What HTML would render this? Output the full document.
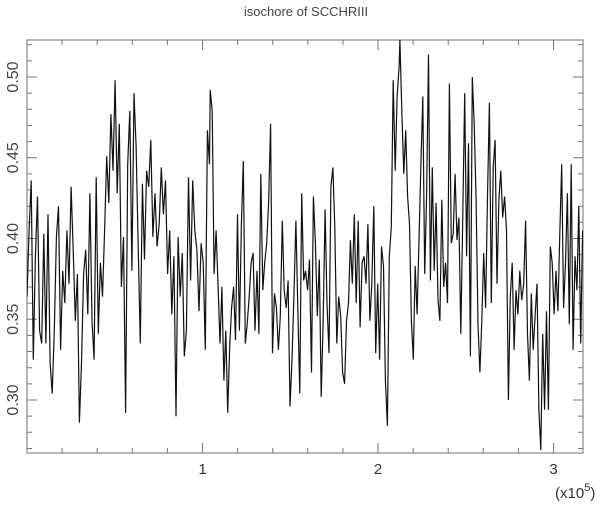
<!DOCTYPE html>
<html><head><meta charset="utf-8"><style>
html,body{margin:0;padding:0;background:#fff;}
svg{display:block;font-family:"Liberation Sans",sans-serif;}
</style></head><body>
<svg id="chart" width="612" height="505" viewBox="0 0 612 505" xmlns="http://www.w3.org/2000/svg">
<text x="306" y="16" text-anchor="middle" font-size="13" fill="#444">isochore of SCCHRIII</text>
<g id="axes"></g>
<g id="series" clip-path="url(#clip)"></g>
<defs><clipPath id="clip"><rect x="27" y="40" width="556" height="413"/></clipPath></defs>
</svg>
<script>
const segAValues=[0.364,0.405,0.436,0.325,0.389,0.426,0.343,0.335,0.403,0.335,0.415,0.323,0.304,0.343,0.401,0.420,0.331,0.380,0.360,0.405,0.372,0.432,0.393,0.349,0.378,0.286,0.323,0.378,0.393,0.353,0.428,0.349,0.325,0.438,0.341,0.385,0.364,0.405,0.451,0.422,0.477,0.442,0.498,0.428,0.471,0.370,0.401,0.292,0.446,0.479,0.380,0.490,0.457,0.395,0.335,0.434,0.387,0.442,0.432,0.461,0.401,0.428,0.395,0.409,0.444,0.415,0.436,0.378,0.405,0.353,0.389,0.290,0.401,0.364,0.391,0.327,0.343,0.438,0.374,0.436,0.405,0.393,0.355,0.397,0.385,0.331,0.467,0.446];
const segBValues=[0.492,0.479,0.378,0.405,0.372,0.335,0.370,0.312,0.343,0.292,0.333,0.357,0.370,0.337,0.415,0.343,0.409,0.448,0.335,0.347,0.364,0.385,0.391,0.343,0.380,0.341,0.440,0.368,0.385,0.397,0.422,0.471,0.329,0.366,0.357,0.331,0.352,0.411,0.368,0.357,0.374,0.296,0.325,0.364,0.411,0.357,0.304,0.428,0.374,0.380,0.368,0.387,0.317,0.426,0.397,0.352,0.387,0.302,0.347,0.418,0.360,0.329,0.432,0.444,0.407,0.335,0.364,0.352,0.317,0.310,0.349,0.360,0.399,0.372,0.415,0.360,0.411,0.345,0.385,0.389,0.372,0.409,0.349,0.372,0.420,0.329,0.372,0.325,0.395,0.383,0.312,0.284,0.389,0.407,0.498,0.442,0.488,0.506];
const segCValues=[0.523,0.477,0.440,0.467,0.426,0.409,0.349,0.325,0.383,0.353,0.399,0.446,0.488,0.378,0.426,0.514,0.374,0.444,0.380,0.422,0.362,0.349,0.424,0.370,0.385,0.360,0.496,0.397,0.403,0.440,0.399,0.413,0.341,0.415,0.490,0.389,0.459,0.327,0.500,0.471,0.424,0.347,0.317,0.349,0.391,0.357,0.426,0.484,0.360,0.444,0.461,0.372,0.424,0.442,0.413,0.426,0.405,0.300,0.364,0.385,0.331,0.368,0.353,0.380,0.362,0.372,0.411,0.341,0.312,0.366,0.331,0.352,0.372,0.294,0.269,0.341,0.294,0.355,0.294,0.395,0.385,0.353,0.380,0.355,0.403,0.446,0.357,0.385,0.428,0.347,0.446,0.331,0.389,0.368,0.420,0.335,0.405];
const segStartBp=[0,104400,212500];
const segEndBp=[104000,212000,316600];
const chromLength=316800;
const xTickLabels=["1","2","3"];
const xTickValues=[1,2,3];
const yTickLabels=["0.30","0.35","0.40","0.45","0.50"];
const yTickValues=[0.30,0.35,0.40,0.45,0.50];

const NS="http://www.w3.org/2000/svg";
const L=27,R=583,T=40,B=453;
function xScale(bp){return L+bp/chromLength*(R-L);}
function yScale(v){return 400-(v-0.30)*1615;}
function mk(tag,attrs,parent){const e=document.createElementNS(NS,tag);for(const k in attrs)e.setAttribute(k,attrs[k]);parent.appendChild(e);return e;}
const axes=document.getElementById('axes');
const frame=mk('rect',{x:L,y:T,width:R-L,height:B-T,fill:'none',stroke:'#888','stroke-width':1.2},axes);


for(let t=0.2;t<=3.15;t+=0.2){
  const major=Math.abs(t-Math.round(t))<1e-6;
  const x=xScale(t*1e5),len=major?10:5;
  const tk=mk('path',{d:`M${x},${B}V${B-len}M${x},${T}V${T+len}`,stroke:'#777','stroke-width':1},axes);
  
  
}
xTickValues.forEach((v,i)=>{
  const t=mk('text',{x:xScale(v*1e5),y:474,'text-anchor':'middle','font-size':15,fill:'#333'},axes);
  t.textContent=xTickLabels[i];
  
  
});
const xm=mk('text',{x:555,y:498,'font-size':15,fill:'#333'},axes);
xm.innerHTML='(x10<tspan dy="-7" font-size="11">5</tspan><tspan dy="7">)</tspan>';


for(let k=27;k<=52;k++){
  const v=k/100,y=yScale(v);
  if(y<T||y>B)continue;
  const major=k%5===0,len=major?10:5;
  const tk=mk('path',{d:`M${L},${y}H${L+len}M${R},${y}H${R-len}`,stroke:'#777','stroke-width':1},axes);
  
  
}
yTickValues.forEach((v,i)=>{
  const y=yScale(v);
  const t=mk('text',{x:18,y:y,'text-anchor':'middle','font-size':16,fill:'#444',transform:`rotate(-90 18 ${y})`},axes);
  t.textContent=yTickLabels[i];
  
  
});
const segs=[segAValues,segBValues,segCValues];
const pts=[];
segs.forEach((vals,s)=>{
  const st=(segEndBp[s]-segStartBp[s])/(vals.length-1);
  vals.forEach((v,i)=>pts.push(xScale(segStartBp[s]+i*st).toFixed(1)+','+yScale(v).toFixed(1)));
});
const line=mk('polyline',{points:pts.join(' '),fill:'none',stroke:'#111','stroke-width':1.2},document.getElementById('series'));


</script>
</body></html>
